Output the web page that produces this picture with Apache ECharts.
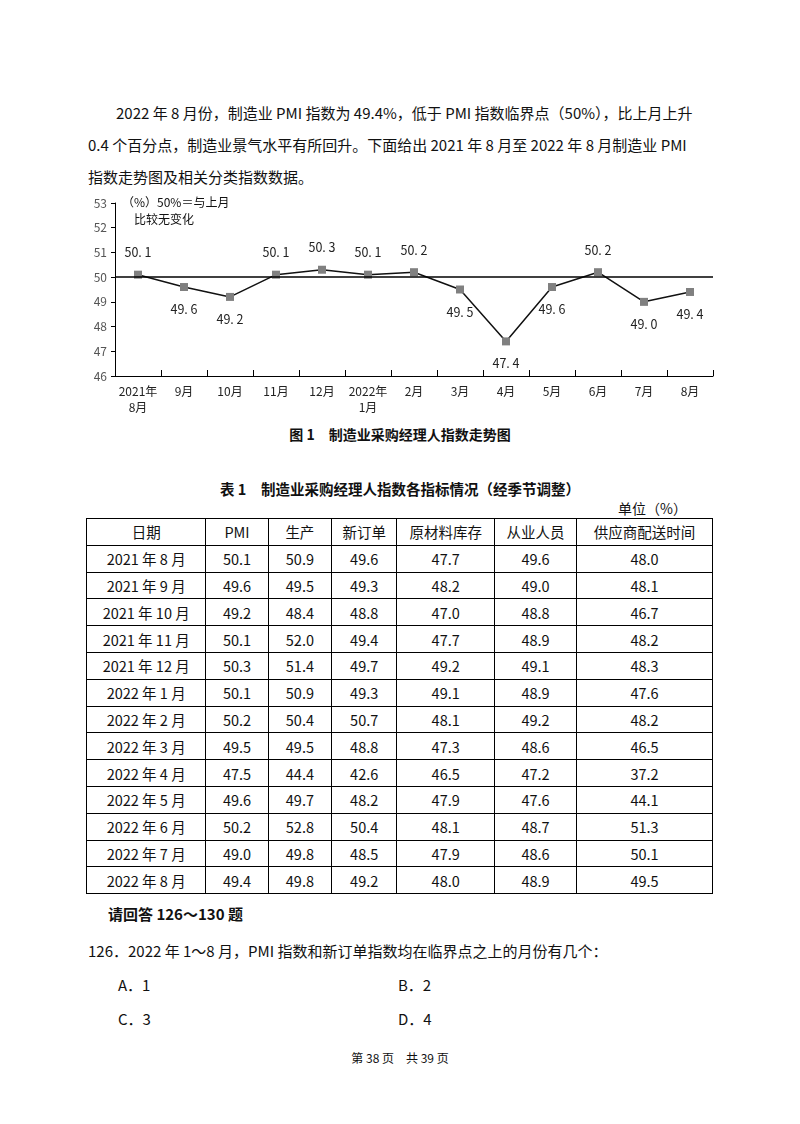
<!DOCTYPE html>
<html lang="zh">
<head>
<meta charset="UTF-8">
<title>制造业PMI</title>
<style>
  * { padding: 0; margin: 0; }
  body { width: 800px; height: 1124px; position: relative; background: #fff; color: #111;
         font-family: "Noto Sans CJK SC", "Liberation Serif", serif; }
  .t { position: absolute; font-size: 15px; white-space: nowrap; }
  .b { font-weight: bold; }
  #main { position: absolute; left: 80px; top: 190px; width: 640px; height: 232px; }
  table { position: absolute; left: 86px; top: 518px; width: 627px; border-collapse: collapse; font-size: 14.5px; }
  td { border: 1px solid #000; height: 25.8px; text-align: center; padding: 0; }
</style>
</head>
<body>
<div class="t" style="left:116px;top:102px">2022 年 8 月份，制造业 PMI 指数为 49.4%，低于 PMI 指数临界点（50%），比上月上升</div>
<div class="t" style="left:88px;top:134px">0.4 个百分点，制造业景气水平有所回升。下面给出 2021 年 8 月至 2022 年 8 月制造业 PMI</div>
<div class="t" style="left:88px;top:166px">指数走势图及相关分类指数数据。</div>
<div id="main"></div>
<div class="t b" style="left:0;width:800px;text-align:center;top:424px;font-size:14px">图 1　制造业采购经理人指数走势图</div>
<div class="t b" style="left:0;width:800px;text-align:center;top:478px;font-size:14.5px">表 1　制造业采购经理人指数各指标情况（经季节调整）</div>
<div class="t" style="left:618px;top:498px;font-size:14px">单位（%）</div>
<table id="tbl"></table>
<div class="t b" style="left:108px;top:903px">请回答 126～130 题</div>
<div class="t" style="left:88px;top:940px">126．2022 年 1～8 月，PMI 指数和新订单指数均在临界点之上的月份有几个：</div>
<div class="t" style="left:118px;top:974px">A．1</div>
<div class="t" style="left:398px;top:974px">B．2</div>
<div class="t" style="left:118px;top:1008px">C．3</div>
<div class="t" style="left:398px;top:1008px">D．4</div>
<div class="t" style="left:0;width:800px;text-align:center;top:1049px;font-size:12px">第 38 页　共 39 页</div>
<script src="https://cdn.jsdelivr.net/npm/echarts@6/dist/echarts.min.js"></script>
<script>
// 走势图数据
var months = ['2021年\n8月','9月','10月','11月','12月','2022年\n1月','2月','3月','4月','5月','6月','7月','8月'];
var pmi = [50.1, 49.6, 49.2, 50.1, 50.3, 50.1, 50.2, 49.5, 47.4, 49.6, 50.2, 49.0, 49.4];
var labelUp = [1, 0, 0, 1, 1, 1, 1, 0, 0, 0, 1, 0, 0];

// 表格数据
var tableHead = ['日期', 'PMI', '生产', '新订单', '原材料库存', '从业人员', '供应商配送时间'];
var tableDates = ['2021 年 8 月','2021 年 9 月','2021 年 10 月','2021 年 11 月','2021 年 12 月','2022 年 1 月','2022 年 2 月','2022 年 3 月','2022 年 4 月','2022 年 5 月','2022 年 6 月','2022 年 7 月','2022 年 8 月'];
var colPMI = ['50.1','49.6','49.2','50.1','50.3','50.1','50.2','49.5','47.5','49.6','50.2','49.0','49.4'];
var colProd = ['50.9','49.5','48.4','52.0','51.4','50.9','50.4','49.5','44.4','49.7','52.8','49.8','49.8'];
var colOrder = ['49.6','49.3','48.8','49.4','49.7','49.3','50.7','48.8','42.6','48.2','50.4','48.5','49.2'];
var colStock = ['47.7','48.2','47.0','47.7','49.2','49.1','48.1','47.3','46.5','47.9','48.1','47.9','48.0'];
var colStaff = ['49.6','49.0','48.8','48.9','49.1','48.9','49.2','48.6','47.2','47.6','48.7','48.6','48.9'];
var colDeliv = ['48.0','48.1','46.7','48.2','48.3','47.6','48.2','46.5','37.2','44.1','51.3','50.1','49.5'];

var widths = [120, 62, 63, 65, 98, 82, 137];
var html = '<tr>' + tableHead.map(function (h, i) { return '<td style="width:' + widths[i] + 'px">' + h + '</td>'; }).join('') + '</tr>';
tableDates.forEach(function (d, i) {
    html += '<tr>' + [d, colPMI[i], colProd[i], colOrder[i], colStock[i], colStaff[i], colDeliv[i]]
        .map(function (v) { return '<td>' + v + '</td>'; }).join('') + '</tr>';
});
document.getElementById('tbl').innerHTML = html;

var font = '"Noto Sans CJK SC", serif';
option = {
    animation: false,
    grid: { left: 35, right: 7, top: 13, bottom: 46 },
    graphic: [{
        type: 'text', left: 42, top: 4,
        style: { text: '（%）50%＝与上月\n　比较无变化', fontSize: 12, lineHeight: 17, fill: '#111', fontFamily: font }
    }],
    xAxis: {
        type: 'category',
        data: months,
        boundaryGap: true,
        axisLine: { lineStyle: { color: '#000', width: 1 } },
        axisTick: { show: true, inside: true, length: 6, lineStyle: { color: '#000' } },
        axisLabel: { color: '#222', fontSize: 12, lineHeight: 16, fontFamily: font, interval: 0, margin: 7 }
    },
    yAxis: {
        type: 'value', min: 46, max: 53, interval: 1,
        axisLine: { show: true, lineStyle: { color: '#000' } },
        axisTick: { show: true, length: 4, lineStyle: { color: '#000' } },
        axisLabel: { color: '#555', fontSize: 12, fontFamily: font, margin: 8 },
        splitLine: { show: false }
    },
    series: [{
        type: 'line',
        data: pmi.map(function (v, i) {
            return { value: v, label: { position: labelUp[i] ? 'top' : 'bottom' } };
        }),
        symbol: 'rect', symbolSize: 8,
        itemStyle: { color: '#808080' },
        lineStyle: { color: '#111', width: 1.5 },
        label: { show: true, distance: 12, color: '#222', fontSize: 12.5, fontFamily: font,
                  formatter: function (p) { return p.value.toFixed(1).replace('.', '. '); } },
        markLine: {
            silent: true, symbol: 'none', label: { show: false },
            lineStyle: { color: '#000', type: 'solid', width: 1.5 },
            data: [{ yAxis: 50 }]
        },
        z: 3
    }]
};
var myChart = echarts.init(document.getElementById('main'));
myChart.setOption(option);
</script>
</body>
</html>
